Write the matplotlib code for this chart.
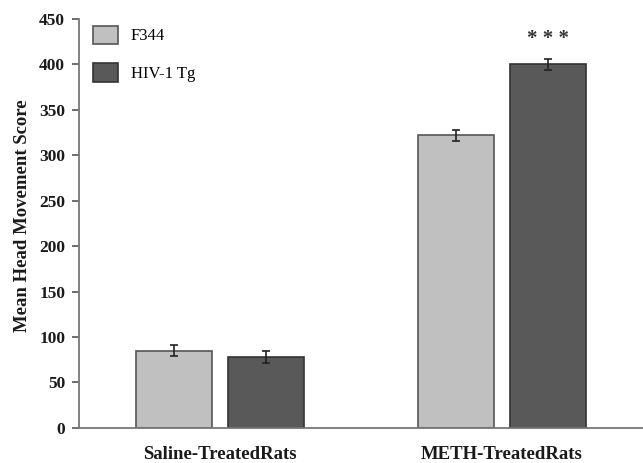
import matplotlib.pyplot as plt
import numpy as np

plt.rcParams['font.family'] = ['Liberation Serif', 'DejaVu Serif']

groups = ['Saline-TreatedRats', 'METH-TreatedRats']
strains = ['F344', 'HIV-1 Tg']
f344_mean = [85, 322]
f344_sem = [6, 6]
tg_mean = [78, 400]
tg_sem = [7, 6]
yticks = [0, 50, 100, 150, 200, 250, 300, 350, 400, 450]

fig = plt.figure(figsize=(6.43, 4.63), dpi=100)
ax = fig.add_axes([0.123, 0.076, 0.877, 0.883])

x = np.arange(len(groups))
w = 0.27
off = 0.163
err_kw = dict(ecolor='#222222', elinewidth=1.2, capsize=3, capthick=1.2)
ax.bar(x - off, f344_mean, w, yerr=f344_sem, color='#c0c0c0',
       edgecolor='#555555', linewidth=1.2, label=strains[0], error_kw=err_kw)
ax.bar(x + off, tg_mean, w, yerr=tg_sem, color='#595959',
       edgecolor='#333333', linewidth=1.2, label=strains[1], error_kw=err_kw)

# significance marker above the METH HIV-1 Tg bar
ax.text(x[1] + off, tg_mean[1] + tg_sem[1] + 11, '* * *', ha='center',
        va='bottom', fontsize=15, fontweight='bold', color='#333333')

ax.set_xlim(-0.5, 1.5)
ax.set_ylim(0, 450)
ax.set_yticks(yticks)
ax.set_yticklabels([str(t) for t in yticks], fontweight='bold')
ax.tick_params(axis='y', direction='out', length=5, width=1.2,
               colors='#555555', labelcolor='#1a1a1a', labelsize=12.5, pad=5)
ax.set_xticks(x)
ax.set_xticklabels(groups, fontweight='bold', fontsize=13.5, color='#1a1a1a')
ax.tick_params(axis='x', length=0, pad=13)
for s in ['top', 'right']:
    ax.spines[s].set_visible(False)
for s in ['left', 'bottom']:
    ax.spines[s].set_color('#777777')
    ax.spines[s].set_linewidth(1.3)

ax.set_ylabel('Mean Head Movement Score', fontweight='bold', fontsize=13.5,
              color='#1a1a1a')
ax.yaxis.set_label_coords(-0.085, 0.52)

ax.legend(loc='upper left', frameon=False, handlelength=1.5, handleheight=1.3,
          fontsize=12, labelspacing=1.15, borderaxespad=0.0, handletextpad=0.8,
          bbox_to_anchor=(0.012, 1.0))

fig.savefig('out.png', dpi=100)
